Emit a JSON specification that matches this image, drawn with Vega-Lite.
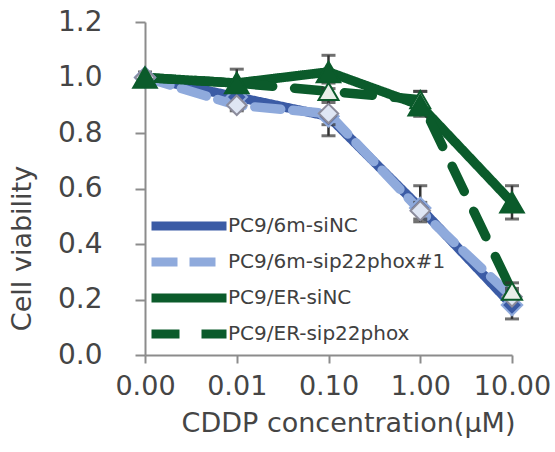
{
  "$schema": "https://vega.github.io/schema/vega-lite/v6.json",
  "autosize": "none",
  "width": 367,
  "height": 333,
  "padding": {"left": 145, "top": 22, "right": 43, "bottom": 97},
  "background": "white",
  "config": {
    "view": {"stroke": null},
    "font": "DejaVu Sans"
  },
  "data": {
    "values": [
      {"s": "PC9/6m-siNC", "c": "0.00", "v": 1.00, "lo": null, "hi": null},
      {"s": "PC9/6m-siNC", "c": "0.01", "v": 0.93, "lo": 0.90, "hi": 0.96},
      {"s": "PC9/6m-siNC", "c": "0.10", "v": 0.86, "lo": 0.79, "hi": 0.93},
      {"s": "PC9/6m-siNC", "c": "1.00", "v": 0.53, "lo": 0.48, "hi": 0.61},
      {"s": "PC9/6m-siNC", "c": "10.00", "v": 0.18, "lo": 0.13, "hi": 0.23},
      {"s": "PC9/6m-sip22phox#1", "c": "0.00", "v": 1.00, "lo": null, "hi": null},
      {"s": "PC9/6m-sip22phox#1", "c": "0.01", "v": 0.90, "lo": 0.88, "hi": 0.92},
      {"s": "PC9/6m-sip22phox#1", "c": "0.10", "v": 0.87, "lo": 0.83, "hi": 0.91},
      {"s": "PC9/6m-sip22phox#1", "c": "1.00", "v": 0.52, "lo": 0.49, "hi": 0.55},
      {"s": "PC9/6m-sip22phox#1", "c": "10.00", "v": 0.21, "lo": 0.18, "hi": 0.24},
      {"s": "PC9/ER-siNC", "c": "0.00", "v": 1.00, "lo": 0.98, "hi": 1.02},
      {"s": "PC9/ER-siNC", "c": "0.01", "v": 0.98, "lo": 0.93, "hi": 1.03},
      {"s": "PC9/ER-siNC", "c": "0.10", "v": 1.02, "lo": 0.96, "hi": 1.08},
      {"s": "PC9/ER-siNC", "c": "1.00", "v": 0.90, "lo": 0.86, "hi": 0.95},
      {"s": "PC9/ER-siNC", "c": "10.00", "v": 0.55, "lo": 0.49, "hi": 0.61},
      {"s": "PC9/ER-sip22phox", "c": "0.00", "v": 1.00, "lo": null, "hi": null},
      {"s": "PC9/ER-sip22phox", "c": "0.01", "v": 0.98, "lo": null, "hi": null},
      {"s": "PC9/ER-sip22phox", "c": "0.10", "v": 0.95, "lo": 0.92, "hi": 0.98},
      {"s": "PC9/ER-sip22phox", "c": "1.00", "v": 0.92, "lo": 0.89, "hi": 0.95},
      {"s": "PC9/ER-sip22phox", "c": "10.00", "v": 0.23, "lo": 0.20, "hi": 0.26}
    ]
  },
  "encoding": {
    "x": {
      "field": "c",
      "type": "ordinal",
      "sort": ["0.00", "0.01", "0.10", "1.00", "10.00"],
      "scale": {"type": "point", "padding": 0},
      "axis": {
        "title": "CDDP concentration(μM)",
        "labelAngle": 0,
        "labelFont": "DejaVu Sans",
        "labelFontSize": 27,
        "labelColor": "#454545",
        "labelPadding": 10,
        "domainColor": "#8c8c8c",
        "domainWidth": 2,
        "tickColor": "#8c8c8c",
        "tickWidth": 2,
        "tickSize": 8,
        "titleFont": "DejaVu Sans",
        "titleFontSize": 27,
        "titleFontWeight": "normal",
        "titleColor": "#454545",
        "titleX": 203,
        "titleY": 68,
        "titleAnchor": null,
        "titleAlign": "center",
        "titleBaseline": "middle"
      }
    },
    "y": {
      "field": "v",
      "type": "quantitative",
      "scale": {"domain": [0, 1.2], "nice": false},
      "axis": {
        "title": "Cell viability",
        "values": [0, 0.2, 0.4, 0.6, 0.8, 1.0, 1.2],
        "format": ".1f",
        "grid": false,
        "labelFont": "DejaVu Sans",
        "labelFontSize": 28,
        "labelColor": "#454545",
        "labelPadding": 33,
        "domainColor": "#8c8c8c",
        "domainWidth": 2,
        "tickColor": "#8c8c8c",
        "tickWidth": 2,
        "tickSize": 10,
        "titleFont": "DejaVu Sans",
        "titleFontSize": 27,
        "titleFontWeight": "normal",
        "titleColor": "#454545",
        "titleX": -123,
        "titleY": 226,
        "titleAngle": -90,
        "titleAlign": "center",
        "titleBaseline": "middle"
      }
    }
  },
  "layer": [
    {
      "mark": {"type": "line", "strokeWidth": 9.5, "strokeCap": "round", "strokeJoin": "round"},
      "encoding": {
        "color": {
          "field": "s",
          "type": "nominal",
          "scale": {
            "domain": ["PC9/6m-siNC", "PC9/6m-sip22phox#1", "PC9/ER-siNC", "PC9/ER-sip22phox"],
            "range": ["#3b5ba5", "#8faadc", "#0b5b2b", "#0b5b2b"]
          },
          "legend": {
            "title": null,
            "orient": "none",
            "legendX": 2,
            "legendY": 187,
            "symbolType": "M-1,0H5",
            "symbolSize": 625,
            "symbolStrokeWidth": 9,
            "labelFont": "DejaVu Sans",
            "labelFontSize": 20,
            "labelColor": "#404040",
            "labelOffset": 47,
            "labelLimit": 0,
            "rowPadding": 0,
            "padding": 0
          }
        },
        "strokeDash": {
          "field": "s",
          "type": "nominal",
          "scale": {
            "domain": ["PC9/6m-siNC", "PC9/6m-sip22phox#1", "PC9/ER-siNC", "PC9/ER-sip22phox"],
            "range": [[1, 0], [26, 12], [1, 0], [28, 22]]
          },
          "legend": null
        }
      }
    },
    {
      "transform": [{"filter": "datum.lo != null"}],
      "mark": {
        "type": "errorbar",
        "color": "#333333",
        "thickness": 2.5,
        "ticks": {"size": 14, "thickness": 3, "color": "#333333"}
      },
      "encoding": {
        "y": {"field": "lo", "type": "quantitative"},
        "y2": {"field": "hi"}
      }
    },
    {
      "transform": [{"filter": "datum.s == 'PC9/6m-siNC'"}],
      "mark": {"type": "point", "shape": "diamond", "filled": true, "fill": "#3b5ba5", "stroke": "#8faadc", "strokeWidth": 2, "size": 420, "opacity": 1}
    },
    {
      "transform": [{"filter": "datum.s == 'PC9/6m-sip22phox#1'"}],
      "mark": {"type": "point", "shape": "diamond", "filled": true, "fill": "#dfe6f4", "stroke": "#8c8c9c", "strokeWidth": 2, "size": 380, "opacity": 1}
    },
    {
      "transform": [{"filter": "datum.s == 'PC9/ER-sip22phox'"}],
      "mark": {"type": "point", "shape": "triangle-up", "filled": true, "fill": "#e8efe9", "stroke": "#0b5b2b", "strokeWidth": 2, "size": 400, "opacity": 1}
    },
    {
      "transform": [{"filter": "datum.s == 'PC9/ER-siNC'"}],
      "mark": {"type": "point", "shape": "triangle-up", "filled": true, "fill": "#0b5b2b", "stroke": "#0b5b2b", "strokeWidth": 2, "size": 560, "opacity": 1}
    }
  ]
}
